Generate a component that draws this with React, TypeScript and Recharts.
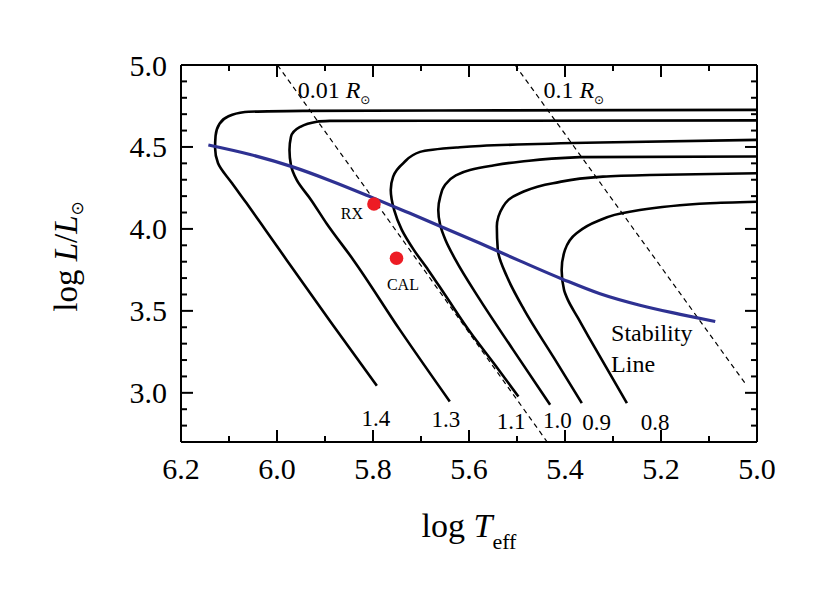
import React from "react";
import { ComposedChart, Line, Scatter, XAxis, YAxis } from "recharts";

const SERIF = "'Liberation Serif', 'Times New Roman', Times, serif";
const TRACK = "#000000";
const STAB = "#2E3192";
const SRC = "#ED1C24";

// evolutionary tracks (log Teff, log L/Lsun)
const track14 = [
  { t: 5.0, l: 4.726 }, { t: 5.535, l: 4.723 }, { t: 5.946, l: 4.72 }, { t: 6.067, l: 4.713 },
  { t: 6.102, l: 4.686 }, { t: 6.12, l: 4.64 }, { t: 6.128, l: 4.567 }, { t: 6.129, l: 4.494 },
  { t: 6.123, l: 4.402 }, { t: 6.094, l: 4.28 }, { t: 6.064, l: 4.159 }, { t: 6.024, l: 3.994 },
  { t: 5.98, l: 3.811 }, { t: 5.887, l: 3.427 }, { t: 5.792, l: 3.043 },
];
const track13 = [
  { t: 5.0, l: 4.662 }, { t: 5.535, l: 4.66 }, { t: 5.89, l: 4.659 }, { t: 5.917, l: 4.654 },
  { t: 5.952, l: 4.622 }, { t: 5.971, l: 4.561 }, { t: 5.974, l: 4.482 }, { t: 5.971, l: 4.39 },
  { t: 5.959, l: 4.299 }, { t: 5.929, l: 4.177 }, { t: 5.896, l: 4.03 }, { t: 5.841, l: 3.811 },
  { t: 5.744, l: 3.384 }, { t: 5.64, l: 2.947 },
];
const track11 = [
  { t: 5.0, l: 4.543 }, { t: 5.327, l: 4.527 }, { t: 5.577, l: 4.506 }, { t: 5.626, l: 4.497 },
  { t: 5.702, l: 4.47 }, { t: 5.737, l: 4.401 }, { t: 5.758, l: 4.319 }, { t: 5.763, l: 4.238 },
  { t: 5.756, l: 4.116 }, { t: 5.74, l: 3.994 }, { t: 5.715, l: 3.872 }, { t: 5.685, l: 3.75 },
  { t: 5.65, l: 3.598 }, { t: 5.598, l: 3.372 }, { t: 5.546, l: 3.171 }, { t: 5.497, l: 2.977 },
];
const track10 = [
  { t: 5.0, l: 4.442 }, { t: 5.369, l: 4.438 }, { t: 5.494, l: 4.41 }, { t: 5.556, l: 4.384 },
  { t: 5.598, l: 4.36 }, { t: 5.629, l: 4.323 }, { t: 5.65, l: 4.268 }, { t: 5.66, l: 4.195 },
  { t: 5.664, l: 4.116 }, { t: 5.66, l: 4.024 }, { t: 5.649, l: 3.933 }, { t: 5.628, l: 3.811 },
  { t: 5.577, l: 3.567 }, { t: 5.508, l: 3.262 }, { t: 5.431, l: 2.927 },
];
const track09 = [
  { t: 5.0, l: 4.34 }, { t: 5.223, l: 4.329 }, { t: 5.321, l: 4.319 }, { t: 5.425, l: 4.279 },
  { t: 5.494, l: 4.218 }, { t: 5.529, l: 4.136 }, { t: 5.542, l: 4.014 }, { t: 5.54, l: 3.872 },
  { t: 5.521, l: 3.709 }, { t: 5.485, l: 3.506 }, { t: 5.423, l: 3.213 }, { t: 5.365, l: 2.937 },
];
const track08 = [
  { t: 5.0, l: 4.166 }, { t: 5.098, l: 4.157 }, { t: 5.265, l: 4.105 }, { t: 5.334, l: 4.045 },
  { t: 5.376, l: 3.974 }, { t: 5.4, l: 3.872 }, { t: 5.407, l: 3.75 }, { t: 5.402, l: 3.628 },
  { t: 5.394, l: 3.567 }, { t: 5.373, l: 3.457 }, { t: 5.352, l: 3.348 }, { t: 5.271, l: 2.937 },
];
const tracks = [track14, track13, track11, track10, track09, track08];

const stabilityLine = [
  { t: 6.143, l: 4.512 }, { t: 6.056, l: 4.454 }, { t: 5.969, l: 4.38 }, { t: 5.89, l: 4.296 },
  { t: 5.806, l: 4.197 }, { t: 5.723, l: 4.095 }, { t: 5.654, l: 4.009 }, { t: 5.577, l: 3.912 },
  { t: 5.494, l: 3.805 }, { t: 5.404, l: 3.692 }, { t: 5.327, l: 3.604 }, { t: 5.244, l: 3.534 },
  { t: 5.16, l: 3.479 }, { t: 5.087, l: 3.435 },
];

// constant-radius lines
const radius001 = [{ t: 5.999, l: 5.0 }, { t: 5.437, l: 2.7 }];
const radius01 = [{ t: 5.504, l: 5.0 }, { t: 5.025, l: 3.059 }];

const sources = [
  { t: 5.798, l: 4.152 },
  { t: 5.751, l: 3.821 },
];

const notes = [
  { t: 5.957, l: 4.797, text: "0.01 ", it: "R", sub: "\u2299", size: 24 },
  { t: 5.445, l: 4.797, text: "0.1 ", it: "R", sub: "\u2299", size: 24 },
  { t: 5.794, l: 2.799, text: "1.4", size: 23, mid: true },
  { t: 5.648, l: 2.793, text: "1.3", size: 23, mid: true },
  { t: 5.512, l: 2.78, text: "1.1", size: 23, mid: true },
  { t: 5.416, l: 2.787, text: "1.0", size: 23, mid: true },
  { t: 5.334, l: 2.774, text: "0.9", size: 23, mid: true },
  { t: 5.212, l: 2.774, text: "0.8", size: 23, mid: true },
  { t: 5.867, l: 4.061, text: "RX", size: 16 },
  { t: 5.771, l: 3.628, text: "CAL", size: 16 },
  { t: 5.304, l: 3.317, text: "Stability", size: 24 },
  { t: 5.304, l: 3.13, text: "Line", size: 24 },
];

const xTicks = [5.0, 5.1, 5.2, 5.3, 5.4, 5.5, 5.6, 5.7, 5.8, 5.9, 6.0, 6.1, 6.2];
const yTicks = [2.7, 2.8, 2.9, 3.0, 3.1, 3.2, 3.3, 3.4, 3.5, 3.6, 3.7, 3.8, 3.9, 4.0, 4.1, 4.2, 4.3, 4.4, 4.5, 4.6, 4.7, 4.8, 4.9, 5.0];

const isMajorX = (v: number) => Math.abs(v * 5 - Math.round(v * 5)) < 1e-6;
const isMajorY = (v: number) => Math.abs(v * 2 - Math.round(v * 2)) < 1e-6;

const serifStyle = { fontFamily: SERIF };

const BottomTick = ({ x, y, payload }: any) => {
  const major = isMajorX(payload.value);
  return (
    <g>
      <line x1={x} x2={x} y1={y} y2={y - (major ? 12 : 6)} stroke="#000" strokeWidth={2} />
      {major && (
        <text x={x} y={y + 37} textAnchor="middle" style={serifStyle} fontSize={30} fill="#000" stroke="none">
          {payload.value.toFixed(1)}
        </text>
      )}
    </g>
  );
};

const TopTick = ({ x, y, payload }: any) => {
  const major = isMajorX(payload.value);
  return <line x1={x} x2={x} y1={y} y2={y + (major ? 12 : 6)} stroke="#000" strokeWidth={2} />;
};

const LeftTick = ({ x, y, payload }: any) => {
  const major = isMajorY(payload.value);
  const show = major && payload.value > 2.75;
  return (
    <g>
      <line x1={x} x2={x + (major ? 12 : 6)} y1={y} y2={y} stroke="#000" strokeWidth={2} />
      {show && (
        <text x={x - 14} y={y} dy="0.35em" textAnchor="end" style={serifStyle} fontSize={30} fill="#000" stroke="none">
          {payload.value.toFixed(1)}
        </text>
      )}
    </g>
  );
};

const RightTick = ({ x, y, payload }: any) => {
  const major = isMajorY(payload.value);
  return <line x1={x} x2={x - (major ? 12 : 6)} y1={y} y2={y} stroke="#000" strokeWidth={2} />;
};

const XTitle = ({ viewBox }: any) => {
  const { x = 173, y = 434, width = 576 } = viewBox || {};
  return (
    <text x={x + width / 2} y={y + 95} textAnchor="middle" style={serifStyle} fontSize={34} fill="#000">
      {"log "}
      <tspan fontStyle="italic">T</tspan>
      <tspan fontSize={22} dy={12}>eff</tspan>
    </text>
  );
};

const YTitle = ({ viewBox }: any) => {
  const { y = 57, height = 377 } = viewBox || {};
  const cx = 69;
  const cy = y + height / 2 + 3;
  return (
    <text transform={`translate(${cx},${cy}) rotate(-90)`} textAnchor="middle" style={serifStyle} fontSize={33} fill="#000">
      {"log "}
      <tspan fontStyle="italic">L</tspan>
      {"/"}
      <tspan fontStyle="italic">L</tspan>
      <tspan style={{ fontFamily: "'DejaVu Sans', sans-serif" }} fontSize={17} dy={6}>{"\u2299"}</tspan>
    </text>
  );
};

const NoteMark = ({ cx, cy, payload }: any) => (
  <text x={cx} y={cy} textAnchor={payload.mid ? "middle" : "start"} style={serifStyle} fontSize={payload.size} fill="#000">
    {payload.text}
    {payload.it && <tspan fontStyle="italic">{payload.it}</tspan>}
    {payload.sub && (
      <tspan style={{ fontFamily: "'DejaVu Sans', sans-serif" }} fontSize={12} dy={6}>{payload.sub}</tspan>
    )}
  </text>
);

const SourceMark = ({ cx, cy }: any) => <circle cx={cx} cy={cy} r={6.8} fill={SRC} />;

export default function App() {
  return (
    <div style={{ width: 806, height: 582, background: "#fff" }}>
      <ComposedChart width={806} height={582} margin={{ top: 47, right: 47, bottom: 88, left: 73 }}>
        <XAxis
          xAxisId="b"
          type="number"
          dataKey="t"
          domain={[5.0, 6.2]}
          reversed
          allowDataOverflow
          ticks={xTicks}
          interval={0}
          tickSize={0}
          tickMargin={0}
          tick={<BottomTick />}
          axisLine={{ stroke: "#000", strokeWidth: 2 }}
          height={60}
          label={<XTitle />}
        />
        <XAxis
          xAxisId="t"
          orientation="top"
          type="number"
          dataKey="t"
          domain={[5.0, 6.2]}
          reversed
          allowDataOverflow
          ticks={xTicks}
          interval={0}
          tickSize={0}
          tickMargin={0}
          tick={<TopTick />}
          axisLine={{ stroke: "#000", strokeWidth: 2 }}
          height={10}
        />
        <YAxis
          yAxisId="l"
          type="number"
          domain={[2.7, 5.0]}
          allowDataOverflow
          ticks={yTicks}
          interval={0}
          tickSize={0}
          tickMargin={0}
          tick={<LeftTick />}
          axisLine={{ stroke: "#000", strokeWidth: 2 }}
          width={100}
          label={<YTitle />}
        />
        <YAxis
          yAxisId="r"
          orientation="right"
          type="number"
          domain={[2.7, 5.0]}
          allowDataOverflow
          ticks={yTicks}
          interval={0}
          tickSize={0}
          tickMargin={0}
          tick={<RightTick />}
          axisLine={{ stroke: "#000", strokeWidth: 2 }}
          width={10}
        />

        <Line xAxisId="b" yAxisId="l" data={radius001} dataKey="l" type="linear" stroke="#000" strokeWidth={1.2} strokeDasharray="5 4" dot={false} activeDot={false} isAnimationActive={false} />
        <Line xAxisId="b" yAxisId="l" data={radius01} dataKey="l" type="linear" stroke="#000" strokeWidth={1.2} strokeDasharray="5 4" dot={false} activeDot={false} isAnimationActive={false} />

        {tracks.map((tr, i) => (
          <Line
            key={`track-${i}`}
            xAxisId="b"
            yAxisId="l"
            data={tr}
            dataKey="l"
            type="monotoneY"
            stroke={TRACK}
            strokeWidth={2.6}
            dot={false}
            activeDot={false}
            isAnimationActive={false}
          />
        ))}

        <Line xAxisId="b" yAxisId="l" data={stabilityLine} dataKey="l" type="monotone" stroke={STAB} strokeWidth={3.2} dot={false} activeDot={false} isAnimationActive={false} />

        <Scatter xAxisId="b" yAxisId="l" data={sources} dataKey="l" shape={<SourceMark />} isAnimationActive={false} />
        <Scatter xAxisId="b" yAxisId="l" data={notes} dataKey="l" shape={<NoteMark />} isAnimationActive={false} />
      </ComposedChart>
    </div>
  );
}
